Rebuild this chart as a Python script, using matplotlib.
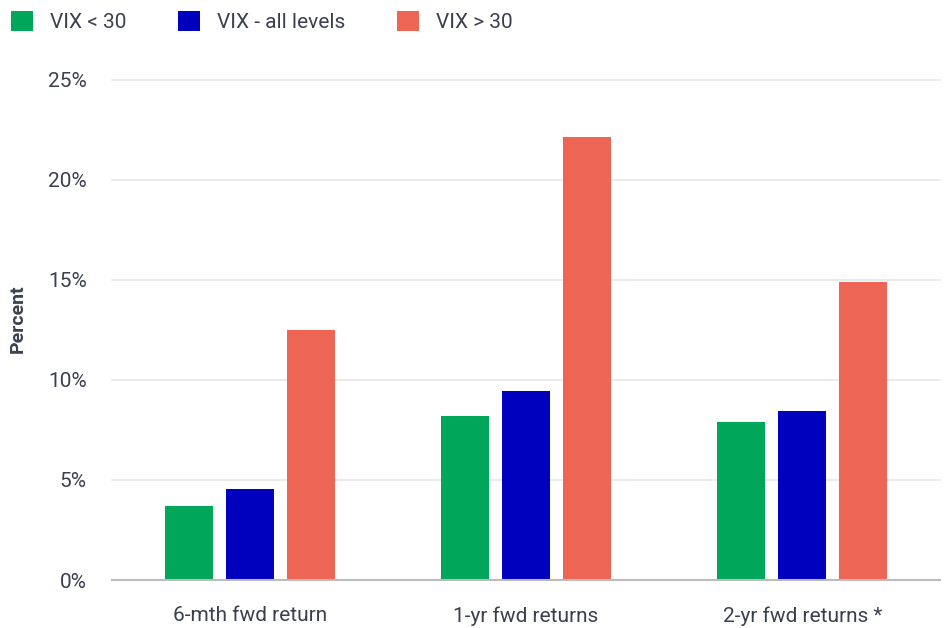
import matplotlib
matplotlib.use("Agg")
from matplotlib import pyplot as plt
from matplotlib.patches import Patch
import numpy as np

# Data
categories = ["6-mth fwd return", "1-yr fwd returns", "2-yr fwd returns *"]
series_names = ["VIX < 30", "VIX - all levels", "VIX > 30"]
vix_below_30 = [3.7, 8.2, 7.9]
vix_all = [4.55, 9.45, 8.45]
vix_above_30 = [12.5, 22.15, 14.9]
y_ticks = [0, 5, 10, 15, 20, 25]

colors = ["#00A65A", "#0000BF", "#EC6555"]
text_color = "#3B3F4F"

plt.rcParams['font.family'] = ['Roboto', 'DejaVu Sans']

fig = plt.figure(figsize=(9.47, 6.28), dpi=100, facecolor='white')
ax = fig.add_axes([0.118, 0.0764, 0.875, 0.7966])

x = np.arange(len(categories))
width = 0.174
step = 0.221
for i, (vals, col) in enumerate(zip([vix_below_30, vix_all, vix_above_30], colors)):
    ax.bar(x + (i - 1) * step, vals, width=width, color=col, zorder=3)

ax.set_xlim(-0.5, len(categories) - 0.5)
ax.set_ylim(0, 25)
ax.set_yticks(y_ticks)
ax.set_yticklabels([f"{t}%" for t in y_ticks])
ax.set_xticks(x)
ax.set_xticklabels(categories)
ax.tick_params(axis='both', length=0, labelsize=15, colors=text_color)
ax.tick_params(axis='y', pad=18)
ax.tick_params(axis='x', pad=19)
ax.grid(axis='y', color='#E8E8E8', linewidth=1.2, zorder=0)
for t in ax.yaxis.get_gridlines():
    t.set_clip_on(False)
for s in ['top', 'right', 'left']:
    ax.spines[s].set_visible(False)
ax.spines['bottom'].set_color('#BBBBBB')
ax.spines['bottom'].set_linewidth(1.5)
ax.spines['bottom'].set_zorder(4)

fig.text(0.019, 0.493, "Percent", rotation=90, ha='center', va='center',
         fontsize=14, fontweight='bold', color=text_color)

handles = [Patch(facecolor=c, edgecolor='none') for c in colors]
fig.legend(handles, series_names, loc='upper left', bbox_to_anchor=(-0.008, 1.012),
           ncol=3, frameon=False, fontsize=15, handlelength=1.05, handleheight=1.05,
           handletextpad=0.8, columnspacing=2.5, labelcolor=text_color)

fig.savefig("out.png", dpi=100, facecolor='white')
